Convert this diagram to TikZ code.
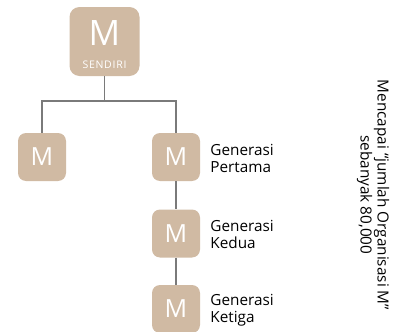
\documentclass[tikz,border=0pt]{standalone}
\usepackage{fontspec}
\setmainfont{Open Sans}
\usetikzlibrary{positioning}
\definecolor{kotak}{HTML}{D0BAA3}
\definecolor{garis}{HTML}{7A7A7A}

\begin{document}
\begin{tikzpicture}[x=1pt, y=-1pt, font=\fontsize{15.3}{17}\selectfont,
	kotakM/.style={fill=kotak, rounded corners=8pt, minimum size=48pt, inner sep=0pt,
		text=white, font=\fontsize{25}{25}\selectfont},
	ket/.style={anchor=west, align=left, inner sep=0pt, font=\fontsize{15.3}{17}\selectfont},
	garisM/.style={draw=garis, line width=1.2pt}]
	\useasboundingbox (0,0) rectangle (397,332);
	% --- Kotak teratas ---
	\node[kotakM, minimum width=70pt, minimum height=69pt, rounded corners=10pt] (M0) at (104.5,41.5) {};
	\node[text=white, font=\fontsize{35}{35}\selectfont] (M0huruf) at (104.5,33) {M};
	\node[text=white, font=\fontsize{10.5}{11}\selectfont\addfontfeature{LetterSpace=7}] (M0teks) at (104.5,65) {SENDIRI};
	% --- Kotak generasi ---
	\node[kotakM] (Mkiri) at (42,157) {M};
	\node[kotakM] (M1) at (176,157) {M};
	\node[kotakM] (M2) at (176,233.5) {M};
	\node[kotakM] (M3) at (176,309) {M};
	% --- Garis penghubung ---
	\coordinate (cabang) at (104.5,101);
	\draw[garisM] (M0) -- (cabang);
	\draw[garisM] (Mkiri.north) |- (cabang) -| (M1.north);
	\draw[garisM] (M1) -- (M2) (M2) -- (M3);
	% --- Keterangan ---
	\foreach \m/\teks in {M1/Pertama, M2/Kedua, M3/Ketiga}
	\node[ket, right=10pt of \m, yshift=-1pt] (ket\m) {Generasi\\\teks};
	\node[rotate=-90, align=center, inner sep=0pt] (target) at (373,195)
		{Mencapai “jumlah Organisasi M”\\sebanyak 80,000};
\end{tikzpicture}
\end{document}
